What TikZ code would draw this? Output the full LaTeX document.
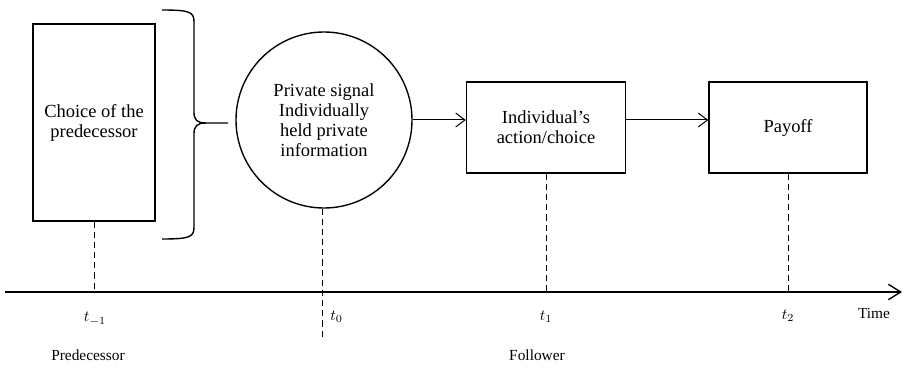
\documentclass[tikz,border=0pt]{standalone}
\usepackage{fontspec}
\setmainfont{Liberation Serif}
\usetikzlibrary{arrows.meta}

\tikzset{
  stagebox/.style={draw, line width=0.9pt, align=center, inner sep=0pt, font=\fontsize{12}{13}\selectfont},
  tickline/.style={dash pattern=on 4pt off 2.6pt, line width=0.6pt},
  flowarrow/.style={-{Straight Barb[length=6pt,width=9pt]}, line width=0.65pt},
  ticklabel/.style={font=\fontsize{10}{12}\selectfont},
  sidelabel/.style={font=\fontsize{10}{12}\selectfont}
}

\begin{document}
\begin{tikzpicture}[x=0.65pt,y=-0.65pt]
\useasboundingbox (0,0) rectangle (904,369);

% A. The four stages
\node[stagebox, minimum width=79.3pt, minimum height=128pt] (pred) at (94,122.5) {Choice of the\\predecessor};
\node[stagebox, circle, minimum size=114.4pt] (signal) at (324,120) {Private signal\\Individually\\held private\\information};
\node[stagebox, minimum width=103.4pt, minimum height=59.2pt] (action) at (546,127.5) {Individual’s\\action/choice};
\node[stagebox, minimum width=102.7pt, minimum height=59.2pt] (payoff) at (788,127.5) {Payoff};

% B. Brace next to the predecessor box
\draw[line width=0.9pt] (162,10) .. controls (190,10) and (194,12) .. (194,22) -- (194,112)
  .. controls (194,120) and (197,123) .. (206,123) -- (228,123);
\draw[line width=0.9pt] (162,239) .. controls (190,239) and (194,237) .. (194,227) -- (194,134)
  .. controls (194,126) and (197,123) .. (206,123);

% C. Arrows between stages
\draw[flowarrow] (signal.east) -- (signal.east -| action.west);
\draw[flowarrow] (action.east |- signal.east) -- (payoff.west |- signal.east);

% D. Time axis
\coordinate (tstart) at (5,292);
\coordinate (tend) at (902,292);
\coordinate (t0end) at (322,340);
\draw[-{Straight Barb[length=8pt,width=10pt]}, line width=0.9pt] (tstart) -- (tend);

% E. Dashed drop lines
\draw[tickline] (pred.south) -- (pred.south |- tstart);
\draw[tickline] (signal.south -| t0end) -- (t0end);
\draw[tickline] (action.south) -- (action.south |- tstart);
\draw[tickline] (payoff.south) -- (payoff.south |- tstart);

% F. Labels under the axis
\node[ticklabel] (tm1) at (95,319) {$t_{-1}$};
\node[ticklabel, anchor=west] (t0) at (325,317) {$t_0$};
\node[ticklabel] (t1) at (546,317) {$t_1$};
\node[ticklabel] (t2) at (788,316) {$t_2$};
\node[ticklabel] (timelbl) at (874,313) {Time};
\node[sidelabel] (predlbl) at (88,355) {Predecessor};
\node[sidelabel] (follbl) at (537,355) {Follower};

\end{tikzpicture}
\end{document}
